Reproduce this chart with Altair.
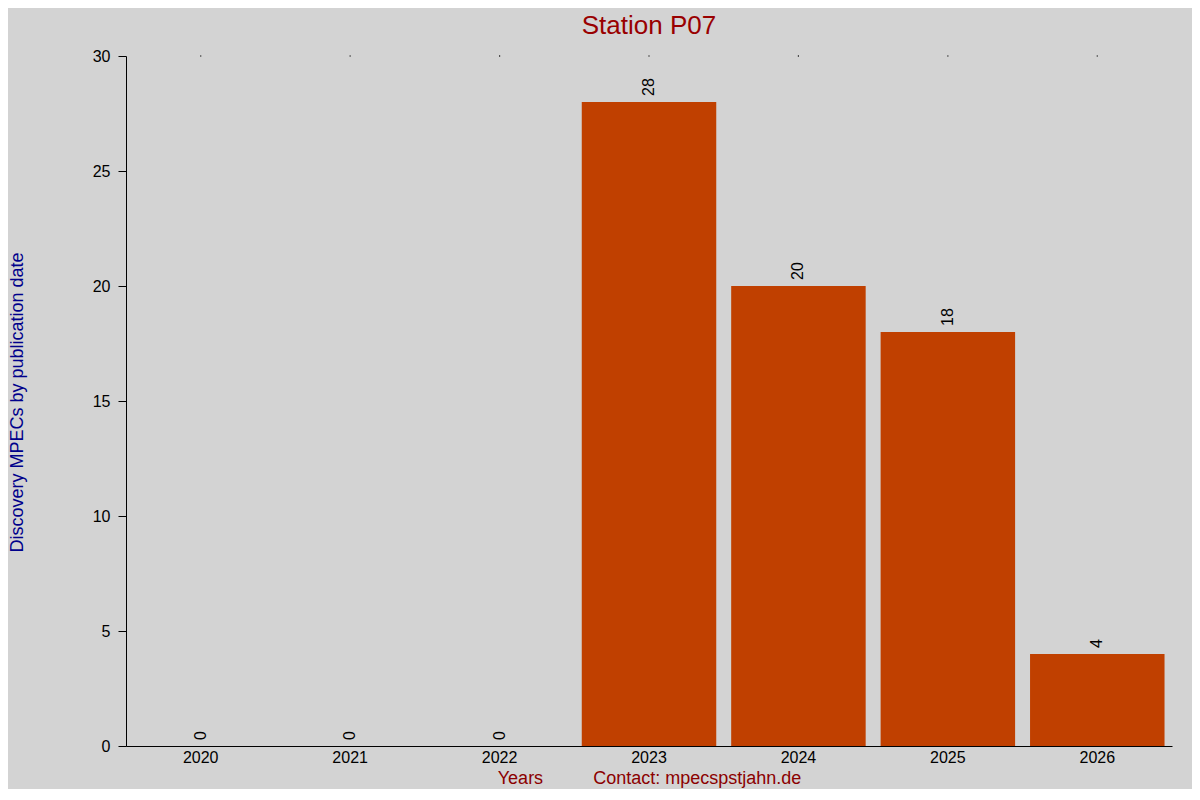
import altair as alt
import pandas as pd

years = ["2020", "2021", "2022", "2023", "2024", "2025", "2026"]
counts = [0, 0, 0, 28, 20, 18, 4]
title_text = ["Station P07"]

df = pd.DataFrame({"year": years, "count": counts})
tdf = pd.DataFrame({"t": title_text})

FONT = "Liberation Sans"
BAR = "#C04000"

x_enc = alt.X(
    "year:N",
    sort=years,
    scale=alt.Scale(paddingInner=0.1, paddingOuter=0.05),
    axis=alt.Axis(
        title="Years\u00a0\u00a0\u00a0\u00a0\u00a0\u00a0\u00a0\u00a0\u00a0\u00a0Contact: mpecspstjahn.de",
        titleColor="#8B0000",
        titleFont=FONT,
        titleFontSize=18,
        titleFontWeight="normal",
        titleBaseline="alphabetic",
        titleY=37,
        labelAngle=0,
        labelFont=FONT,
        labelFontSize=16,
        labelColor="black",
        labelPadding=3,
        ticks=False,
        domainColor="black",
        domainWidth=1,
    ),
)

y_scale = alt.Scale(domain=[0, 30], nice=False)

bars = alt.Chart(df).mark_bar(color=BAR).encode(
    x=x_enc,
    y=alt.Y(
        "count:Q",
        scale=y_scale,
        axis=alt.Axis(
            title="Discovery MPECs by publication date",
            titleColor="#00008B",
            titleFont=FONT,
            titleFontSize=18,
            titleFontWeight="normal",
            titleAngle=270,
            titleX=-104,
            titleY=346,
            titleAlign="center",
            titleBaseline="alphabetic",
            values=[0, 5, 10, 15, 20, 25, 30],
            labelFont=FONT,
            labelFontSize=16,
            labelColor="black",
            labelPadding=8,
            tickSize=8,
            tickColor="black",
            domainColor="black",
            grid=False,
        ),
    ),
)

labels = alt.Chart(df).mark_text(
    angle=270, align="left", baseline="middle", dx=6,
    font=FONT, fontSize=16, color="black",
).encode(
    x=alt.X("year:N", sort=years),
    y=alt.Y("count:Q", scale=y_scale),
    text=alt.Text("count:Q"),
)

dots = alt.Chart(df).mark_square(size=1.5, color="black", opacity=1).encode(
    x=alt.X("year:N", sort=years),
    y=alt.datum(30),
)

title = alt.Chart(tdf).mark_text(
    font=FONT, fontSize=26, color="#990000", align="center", baseline="alphabetic",
).encode(
    x=alt.value(523),
    y=alt.value(-22),
    text="t:N",
)

chart = (
    alt.layer(bars, labels, dots, title)
    .properties(
        width=1046,
        height=690,
        padding={"left": 118, "top": 48, "right": 20, "bottom": 43},
        autosize=alt.AutoSizeParams(type="none"),
    )
    .configure(background="#D3D3D3")
    .configure_view(stroke=None)
)

chart.save("out.html", embed_options={"renderer": "svg", "actions": False})
